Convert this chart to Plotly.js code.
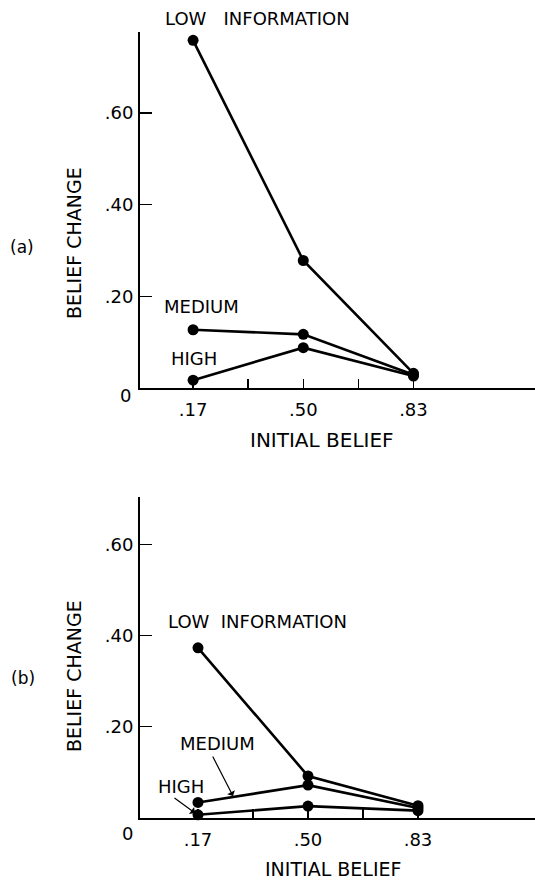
<!DOCTYPE html>
<html>
<head>
<meta charset="utf-8">
<script src="https://cdn.plot.ly/plotly-3.0.1.min.js"></script>
<style>
  html, body { margin: 0; padding: 0; background: #ffffff; }
  #chart { width: 535px; height: 882px; }
</style>
</head>
<body>
<div id="chart"></div>
<script>
// ---- data ----
const initialBelief = [0.17, 0.50, 0.83];

// panel (a)
const aLowInfo    = [0.758, 0.278, 0.032];
const aMediumInfo = [0.127, 0.117, 0.029];
const aHighInfo   = [0.017, 0.088, 0.026];

// panel (b)
const bLowInfo    = [0.373, 0.092, 0.027];
const bMediumInfo = [0.034, 0.072, 0.022];
const bHighInfo   = [0.007, 0.026, 0.016];

// axis ticks
const xTickVals = [0.17, 0.335, 0.50, 0.665, 0.83];
const xTickText = ['.17', '', '.50', '', '.83'];
const yTickVals = [0.20, 0.40, 0.60];
const yTickText = ['.20', '.40', '.60'];

const FONT = 'DejaVu Sans';
const INK = '#000000';

function series(y, xa, ya) {
  return {
    x: initialBelief, y: y, xaxis: xa, yaxis: ya,
    type: 'scatter', mode: 'lines+markers',
    line: { color: INK, width: 2.6 },
    marker: { color: INK, size: 11 },
    cliponaxis: false, hoverinfo: 'skip'
  };
}

const data = [
  series(aLowInfo, 'x', 'y'),
  series(aMediumInfo, 'x', 'y'),
  series(aHighInfo, 'x', 'y'),
  series(bLowInfo, 'x2', 'y2'),
  series(bMediumInfo, 'x2', 'y2'),
  series(bHighInfo, 'x2', 'y2')
];

const W = 535, H = 882, L = 140;
const px = v => (v - L) / (W - L);   // pixel x -> paper x
const py = v => (H - v) / H;         // pixel y -> paper y

function xAxis(range, anchor) {
  return {
    domain: [0, 1], range: range, anchor: anchor,
    tickmode: 'array', tickvals: xTickVals, ticktext: xTickText,
    ticks: 'inside', ticklen: 9, tickwidth: 1.5, tickcolor: INK,
    ticklabelstandoff: 4,
    showline: true, linewidth: 2, linecolor: INK,
    showgrid: false, zeroline: false,
    tickfont: { family: FONT, size: 18, color: INK },
    fixedrange: true
  };
}
function yAxis(domain, range, anchor) {
  return {
    domain: domain, range: range, anchor: anchor,
    tickmode: 'array', tickvals: yTickVals, ticktext: yTickText,
    ticks: 'inside', ticklen: 12, tickwidth: 1.5, tickcolor: INK,
    ticklabelstandoff: 1,
    showline: true, linewidth: 2, linecolor: INK,
    showgrid: false, zeroline: false,
    tickfont: { family: FONT, size: 18, color: INK },
    fixedrange: true
  };
}

function label(text, xPix, yPix, opts) {
  return Object.assign({
    text: text, xref: 'paper', yref: 'paper',
    x: px(xPix), y: py(yPix), xanchor: 'left', yanchor: 'middle',
    showarrow: false, font: { family: FONT, size: 18, color: INK }
  }, opts || {});
}

const NB = '\u00a0';
const annotations = [
  // panel (a)
  label('LOW' + NB + NB + NB + 'INFORMATION', 163, 18.5),
  label('MEDIUM', 162, 306.7),
  label('HIGH', 169, 358.3),
  label('(a)', 22, 247, { xanchor: 'center', font: { family: FONT, size: 17, color: INK } }),
  label('BELIEF CHANGE', 74, 243, { xanchor: 'center', textangle: -90, font: { family: FONT, size: 19, color: INK } }),
  label('INITIAL BELIEF', 322, 440, { xanchor: 'center', font: { family: FONT, size: 20, color: INK } }),
  label('0', 125.5, 395, { xanchor: 'center' }),
  // panel (b)
  label('LOW' + NB + NB + 'INFORMATION', 165.5, 621),
  label('MEDIUM', 178, 743.3),
  label('HIGH', 156, 786.7),
  label('(b)', 23, 678, { xanchor: 'center', font: { family: FONT, size: 17, color: INK } }),
  label('BELIEF CHANGE', 74, 676, { xanchor: 'center', textangle: -90, font: { family: FONT, size: 19, color: INK } }),
  label('INITIAL BELIEF', 333, 868.5, { xanchor: 'center', font: { family: FONT, size: 19, color: INK }, borderpad: 0 }),
  label('0', 127.5, 833.7, { xanchor: 'center' }),
  // arrows in panel (b)
  { text: '', xref: 'x2', yref: 'y2', x: 0.275, y: 0.048, ax: -21, ay: -41,
    showarrow: true, arrowhead: 1, arrowsize: 1.2, arrowwidth: 1.2, arrowcolor: INK },
  { text: '', xref: 'x2', yref: 'y2', x: 0.161, y: 0.011, ax: -22, ay: -16,
    showarrow: true, arrowhead: 1, arrowsize: 1.2, arrowwidth: 1.2, arrowcolor: INK }
];

const layout = {
  width: W, height: H,
  margin: { l: L, r: 0, t: 0, b: 0, pad: 0 },
  paper_bgcolor: '#ffffff', plot_bgcolor: '#ffffff',
  showlegend: false,
  font: { family: FONT, color: INK },
  xaxis: xAxis([0.011, 1.194], 'y'),
  yaxis: yAxis([0.5601, 0.9641], [0, 0.777], 'x'),
  xaxis2: xAxis([-0.004, 1.181], 'y2'),
  yaxis2: yAxis([0.0726, 0.4362], [0, 0.703], 'x2'),
  annotations: annotations
};

Plotly.newPlot('chart', data, layout, { displayModeBar: false, staticPlot: true });
</script>
</body>
</html>
